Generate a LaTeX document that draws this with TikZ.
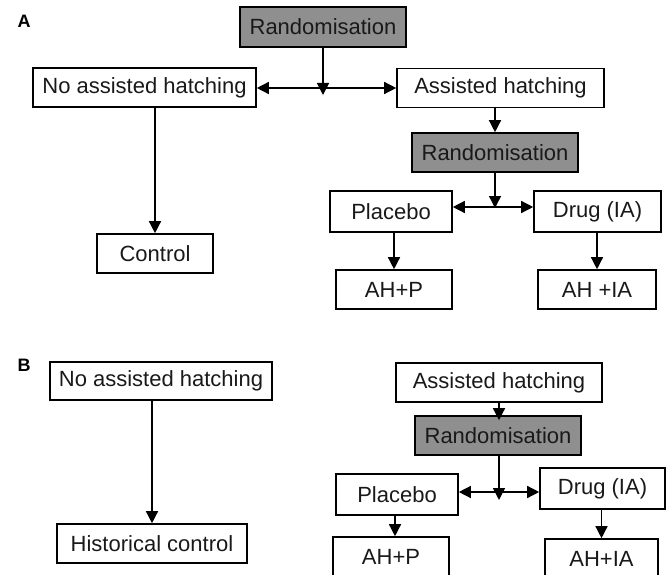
\documentclass[tikz,border=0pt]{standalone}
\usepackage{fontspec}
\setmainfont{Liberation Sans}
\usetikzlibrary{arrows.meta}
\begin{document}
\begin{tikzpicture}[x=1pt,y=-1pt,
  box/.style={draw,line width=1.6pt,inner sep=0pt,font=\fontsize{22}{24}\selectfont,text=black!90},
  randbox/.style={box,fill=black!44},
  arr/.style={line width=1.4pt,-{Triangle[length=12pt,width=12pt]}},
  arrs/.style={line width=1.4pt,{Triangle[length=12pt,width=12pt]}-{Triangle[length=12pt,width=12pt]}},
  panellabel/.style={inner sep=0pt,font=\fontsize{18}{20}\selectfont\bfseries}]
\useasboundingbox (0,0) rectangle (666,575);
\node[panellabel] (labA) at (24,21) {A};
\node[randbox,minimum width=166pt,minimum height=40pt] (randA) at (323,27) {Randomisation};
\node[box,minimum width=223pt,minimum height=39pt] (noA) at (144.5,87.5) {No assisted hatching};
\node[box,minimum width=207pt,minimum height=39pt] (ahA) at (500.5,88) {Assisted hatching};
\node[randbox,minimum width=166pt,minimum height=39pt] (randA2) at (495,152.5) {Randomisation};
\node[box,minimum width=122pt,minimum height=41pt] (placA) at (391,211.5) {Placebo};
\node[box,minimum width=127pt,minimum height=41pt] (drugA) at (597.5,211.5) {Drug (IA)};
\node[box,minimum width=116pt,minimum height=39pt] (ctrlA) at (155,253.5) {Control};
\node[box,minimum width=116pt,minimum height=39pt] (ahpA) at (394,289.5) {AH+P};
\node[box,minimum width=118pt,minimum height=39pt] (ahiaA) at (597,289.5) {AH +IA};
\coordinate (jA) at (323,88);
\coordinate (jA2) at (495,207);
\draw[arr] (randA) -- ([yshift=-7pt]jA);
\draw[arrs] (noA.east |- jA) -- (ahA.west |- jA);
\draw[arr] (ctrlA |- noA.south) -- (ctrlA.north);
\draw[arr] (randA2 |- ahA.south) -- (randA2.north);
\draw[arr] (randA2) -- ([yshift=-1pt]jA2);
\draw[arrs] (placA.east |- jA2) -- (drugA.west |- jA2);
\draw[arr] (ahpA |- placA.south) -- (ahpA.north);
\draw[arr] (ahiaA |- drugA.south) -- (ahiaA.north);
\node[panellabel] (labB) at (24,365) {B};
\node[box,minimum width=222pt,minimum height=38pt] (noB) at (161,381) {No assisted hatching};
\node[box,minimum width=190pt,minimum height=39pt] (histB) at (152,543.5) {Historical control};
\node[box,minimum width=206pt,minimum height=39pt] (ahB) at (499,382.5) {Assisted hatching};
\node[randbox,minimum width=166pt,minimum height=39pt] (randB) at (498,435.5) {Randomisation};
\node[box,minimum width=122pt,minimum height=41pt] (placB) at (397,494.5) {Placebo};
\node[box,minimum width=125pt,minimum height=41pt] (drugB) at (602.5,488.5) {Drug (IA)};
\node[box,minimum width=116pt,minimum height=39pt] (ahpB) at (391,556.5) {AH+P};
\node[box,minimum width=113pt,minimum height=39pt] (ahiaB) at (601.5,558.5) {AH+IA};
\coordinate (jB) at (499,492);
\draw[arr] (histB |- noB.south) -- (histB.north);
\draw[arr] (ahB.south) -- ([yshift=-5pt]ahB.south |- randB.north);
\draw[arr] (randB.south -| jB) -- ([yshift=-8pt]jB);
\draw[arrs] (placB.east |- jB) -- (drugB.west |- jB);
\draw[arr] ([xshift=-2pt]placB.south) -- ([xshift=-2pt]placB.south |- ahpB.north);
\draw[arr] ([xshift=-1pt]drugB.south) -- ([xshift=-1pt]drugB.south |- ahiaB.north);
\end{tikzpicture}
\end{document}
